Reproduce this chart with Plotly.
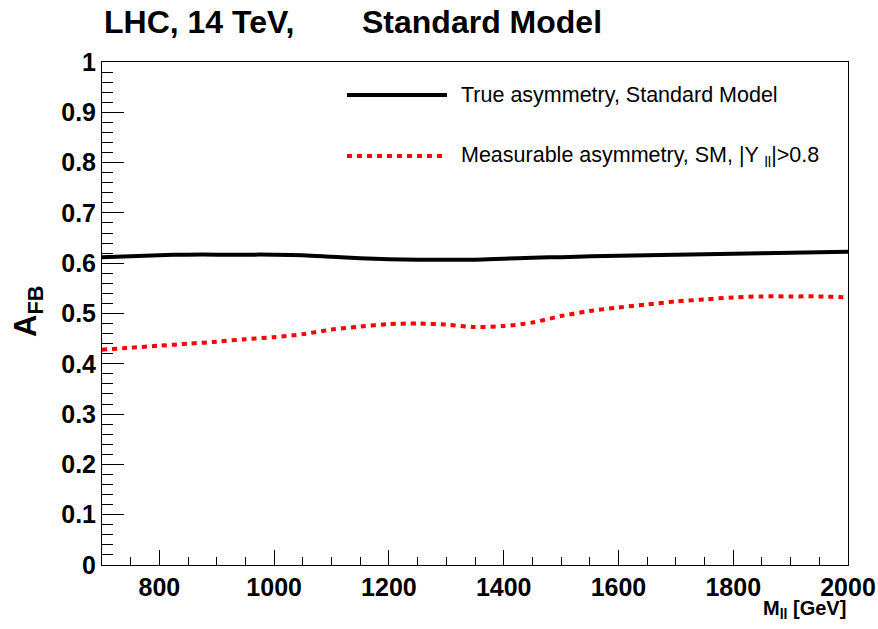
import plotly.graph_objects as go

# Dilepton invariant mass (GeV) and forward-backward asymmetry
mass_true = [700, 750, 800, 850, 900, 950, 1000, 1050, 1100, 1150, 1200, 1250, 1300,
             1350, 1400, 1450, 1500, 1600, 1700, 1800, 1900, 2000]
afb_true = [0.612, 0.614, 0.616, 0.617, 0.617, 0.617, 0.617, 0.616, 0.613, 0.610, 0.608,
            0.607, 0.607, 0.607, 0.609, 0.611, 0.612, 0.615, 0.617, 0.619, 0.621, 0.623]

mass_meas = [700, 750, 800, 850, 900, 950, 1000, 1050, 1100, 1150, 1200, 1250, 1300,
             1350, 1400, 1450, 1500, 1550, 1600, 1650, 1700, 1750, 1800, 1850, 1900,
             1950, 2000]
afb_meas = [0.428, 0.432, 0.436, 0.440, 0.444, 0.449, 0.453, 0.459, 0.468, 0.474, 0.479,
            0.480, 0.478, 0.473, 0.475, 0.482, 0.495, 0.505, 0.512, 0.518, 0.524, 0.528,
            0.532, 0.534, 0.534, 0.534, 0.532]

legend_labels = ["True asymmetry, Standard Model",
                 "Measurable asymmetry, SM, |Y <sub>ll</sub>|>0.8"]

FONT = "Liberation Sans, Arial, Helvetica, sans-serif"
W, H = 878, 629
ML, MR, MT, MB = 102, 30, 62, 64
PW, PH = W - ML - MR, H - MT - MB


def px(x):
    return (x - ML) / PW


def py(y):
    return (H - MB - y) / PH


fig = go.Figure()
fig.add_trace(go.Scatter(x=mass_true, y=afb_true, mode="lines",
                         line=dict(color="black", width=4, shape="spline", smoothing=0.8),
                         showlegend=False))
fig.add_trace(go.Scatter(x=mass_meas, y=afb_meas, mode="lines",
                         line=dict(color="#ff0000", width=4, dash="5px,5px",
                                   shape="spline", smoothing=0.8),
                         showlegend=False))

axis_common = dict(
    showline=True, linecolor="black", linewidth=1, mirror=True, automargin=False,
    showgrid=False, zeroline=False, ticks="inside", tickcolor="black", tickwidth=1,
    tickfont=dict(family=FONT, size=25, color="black", weight="bold"),
)

fig.update_xaxes(range=[700, 2000], tick0=0, dtick=200, ticklen=15,
                 minor=dict(dtick=50, ticklen=8, ticks="inside", tickcolor="black",
                            showgrid=False),
                 **axis_common)
fig.update_yaxes(range=[0, 1], tick0=0, dtick=0.1, ticklen=22,
                 minor=dict(dtick=0.02, ticklen=11, ticks="inside", tickcolor="black",
                            showgrid=False),
                 **axis_common)

# legend samples
fig.add_shape(type="line", xref="paper", yref="paper",
              x0=px(347), x1=px(447), y0=py(95), y1=py(95),
              line=dict(color="black", width=4))
fig.add_shape(type="line", xref="paper", yref="paper",
              x0=px(347), x1=px(447), y0=py(156), y1=py(156),
              line=dict(color="#ff0000", width=4, dash="5px,5px"))

annotations = [
    dict(text="<b>LHC, 14 TeV,</b>", x=px(102), y=py(22),
         xanchor="left", yanchor="middle", font=dict(size=32)),
    dict(text="<b>Standard Model</b>", x=px(360), y=py(22),
         xanchor="left", yanchor="middle", font=dict(size=32)),
    dict(text="<b>A<sub>FB</sub></b>", x=px(28), y=py(312), textangle=-90,
         xanchor="center", yanchor="middle", font=dict(size=31)),
    dict(text="<b>M<sub>ll</sub> [GeV]</b>", x=px(848), y=py(609),
         xanchor="right", yanchor="middle", font=dict(size=20)),
    dict(text=legend_labels[0], x=px(459), y=py(95), xanchor="left", yanchor="middle",
         font=dict(size=21.5)),
    dict(text=legend_labels[1], x=px(459), y=py(156), xanchor="left", yanchor="middle",
         font=dict(size=21.5)),
]
for a in annotations:
    a.update(xref="paper", yref="paper", showarrow=False)
    a["font"].update(family=FONT, color="black")
    fig.add_annotation(**a)

fig.update_layout(
    template="none",
    width=W, height=H,
    margin=dict(l=ML, r=MR, t=MT, b=MB, pad=0),
    paper_bgcolor="white", plot_bgcolor="white",
    font=dict(family=FONT, color="black"),
    showlegend=False,
)

fig.write_html("out.html")
